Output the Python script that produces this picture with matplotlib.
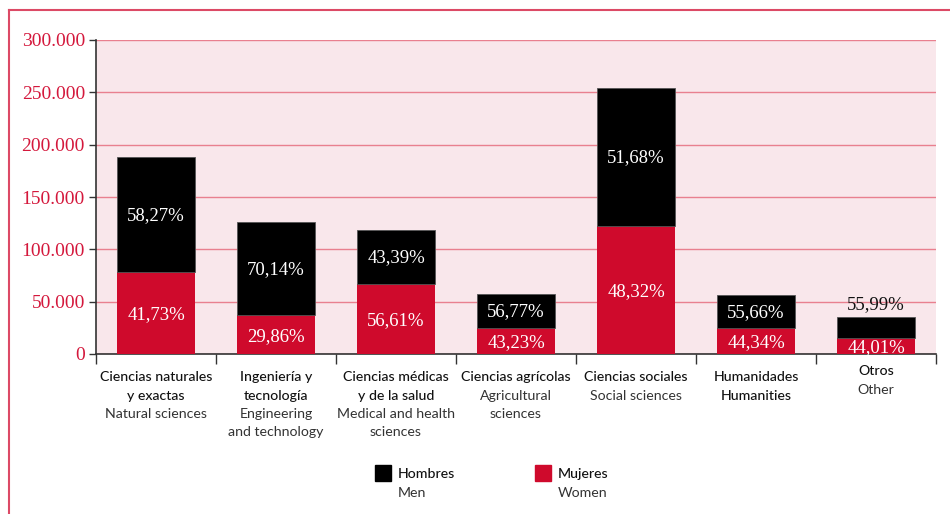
import matplotlib
matplotlib.use("Agg")
import matplotlib.pyplot as plt
from matplotlib.lines import Line2D
from matplotlib.patches import Rectangle
import numpy as np

# Spanish / English category names
cat_es = [["Ciencias naturales", "y exactas"], ["Ingeniería y", "tecnología"],
          ["Ciencias médicas", "y de la salud"], ["Ciencias agrícolas"],
          ["Ciencias sociales"], ["Humanidades", "Humanities"], ["Otros"]]
cat_en = [["Natural sciences"], ["Engineering", "and technology"],
          ["Medical and health", "sciences"], ["Agricultural", "sciences"],
          ["Social sciences"], [], ["Other"]]

# Total researchers per field and the share of women / men (%)
totals = [188000, 126000, 118500, 57300, 254000, 56000, 35600]
pct_women = [41.73, 29.86, 56.61, 43.23, 48.32, 44.34, 44.01]
pct_men = [58.27, 70.14, 43.39, 56.77, 51.68, 55.66, 55.99]

yticks = [0, 50000, 100000, 150000, 200000, 250000, 300000]
ytick_labels = ["0", "50.000", "100.000", "150.000", "200.000", "250.000", "300.000"]

RED = "#cf0a2c"
BLACK = "#000000"
TICK_RED = "#d4183c"
GRID = "#e9808f"
BG = "#f9e7eb"
FRAME = "#dc4a66"

women = np.array(totals) * np.array(pct_women) / 100.0
men = np.array(totals) - women
x = np.arange(len(totals))

fig = plt.figure(figsize=(9.5, 5.14), dpi=100)
ax = fig.add_axes([96 / 950, 1 - 354 / 514, (936 - 96) / 950, (354 - 40) / 514])
ax.set_facecolor(BG)

bw = 0.65
ax.bar(x, women, width=bw, color=RED, zorder=3)
ax.bar(x, men, width=bw, bottom=women, color=BLACK, zorder=3,
       edgecolor="#555555", linewidth=0.6)

pct_font = dict(family="Liberation Serif", fontsize=13.5)
for i in range(len(x)):
    ax.annotate(f"{pct_women[i]:.2f}%".replace(".", ","), (x[i], women[i] / 2),
                xytext=(0, -2), textcoords="offset pixels",
                ha="center", va="center", color="white", zorder=4, **pct_font)
    if men[i] > 30000:
        ax.annotate(f"{pct_men[i]:.2f}%".replace(".", ","), (x[i], women[i] + men[i] / 2),
                    xytext=(0, -1), textcoords="offset pixels",
                    ha="center", va="center", color="white", zorder=4, **pct_font)
    else:
        ax.annotate(f"{pct_men[i]:.2f}%".replace(".", ","),
                    (x[i], totals[i]), xytext=(0, 12), textcoords="offset pixels",
                    ha="center", va="center", color="#111111", zorder=4, **pct_font)

ax.set_xlim(-0.5, len(x) - 0.5)
ax.set_ylim(0, 300000)
ax.set_yticks(yticks)
ax.set_yticklabels(ytick_labels, family="Liberation Serif", fontsize=14, color=TICK_RED)
ax.yaxis.grid(True, color=GRID, linewidth=1.0, zorder=1)
ax.set_axisbelow(True)
ax.tick_params(axis="y", length=5, width=1, color="#333333", pad=3)

ax.set_xticks(np.arange(len(x) + 1) - 0.5)
ax.set_xticklabels([])
ax.tick_params(axis="x", length=7, width=1, color="#333333", direction="out")

for s in ["top", "right"]:
    ax.spines[s].set_visible(False)
ax.spines["left"].set_color("#333333")
ax.spines["bottom"].set_color("#333333")
ax.spines["left"].set_linewidth(1.2)
ax.spines["bottom"].set_linewidth(1.2)

# Category labels beneath the axis
lab_font = "Lato"
for i in range(len(x)):
    off = 23 if i != 6 else 17
    lines = [(t, "#111111", "medium") for t in cat_es[i]] + \
            [(t, "#333333", "normal") for t in cat_en[i]]
    for j, (t, c, w) in enumerate(lines):
        ax.annotate(t, (x[i], 0), xytext=(0, -(off + 18.5 * j)), textcoords="offset pixels",
                    ha="center", va="center", fontsize=10.2, color=c,
                    family=lab_font, weight=w, annotation_clip=False)

# Legend
for (lx, col, es, en) in [(375, BLACK, "Hombres", "Men"), (535, RED, "Mujeres", "Women")]:
    fig.add_artist(Rectangle((lx / 950, 1 - 481 / 514), 16 / 950, 16 / 514,
                             transform=fig.transFigure, color=col))
    fig.text((lx + 23) / 950, 1 - 474 / 514, es, ha="left", va="center",
             fontsize=10.2, family=lab_font, weight="medium", color="#111111")
    fig.text((lx + 23) / 950, 1 - 493 / 514, en, ha="left", va="center",
             fontsize=10.2, family=lab_font, color="#333333")

# Outer frame (top and left edges)
fig.add_artist(Line2D([9 / 950, 1.0], [1 - 10 / 514, 1 - 10 / 514],
                      transform=fig.transFigure, color=FRAME, linewidth=1.5))
fig.add_artist(Line2D([9 / 950, 9 / 950], [1 - 10 / 514, 0],
                      transform=fig.transFigure, color=FRAME, linewidth=1.5))

fig.savefig("out.png", dpi=100, facecolor="white")
